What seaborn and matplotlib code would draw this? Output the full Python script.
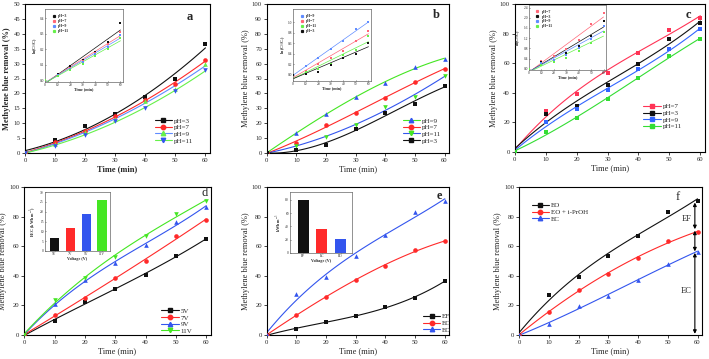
import numpy as np
import pandas as pd
import matplotlib
matplotlib.use("Agg")
import matplotlib.pyplot as plt
from matplotlib.lines import Line2D
import seaborn as sns

# ---------------- data ----------------
time = [0, 10, 20, 30, 40, 50, 60]

# panel a (removal %, pH effect)
a_ph3 = [0, 4.2, 9.2, 13.2, 18.8, 25.0, 36.6]
a_ph7 = [0, 3.6, 7.3, 12.3, 17.7, 23.3, 31.2]
a_ph9 = [0, 3.0, 7.0, 11.5, 17.5, 21.6, 29.7]
a_ph11 = [0, 2.5, 6.2, 10.7, 15.2, 20.7, 27.8]
# inset a  ln(C0/C)
ai_ph3 = [0, 0.040, 0.093, 0.133, 0.184, 0.250, 0.367]
ai_ph7 = [0, 0.036, 0.082, 0.125, 0.176, 0.232, 0.310]
ai_ph9 = [0, 0.032, 0.075, 0.118, 0.168, 0.216, 0.295]
ai_ph11 = [0, 0.028, 0.066, 0.108, 0.158, 0.202, 0.276]

# panel b
b_ph9 = [0, 13.5, 26.1, 37.8, 46.8, 57.7, 63.3]
b_ph7 = [0, 7.0, 18.9, 26.6, 36.9, 47.7, 56.5]
b_ph11 = [0, 4.7, 10.8, 18.9, 30.6, 37.4, 52.0]
b_ph3 = [0, 2.0, 5.4, 16.0, 26.6, 32.9, 45.0]
bi_ph9 = [0, 0.16, 0.32, 0.48, 0.64, 0.87, 1.00]
bi_ph7 = [0, 0.07, 0.21, 0.31, 0.46, 0.65, 0.83]
bi_ph11 = [0, 0.05, 0.11, 0.21, 0.37, 0.47, 0.73]
bi_ph3 = [0, 0.02, 0.06, 0.18, 0.32, 0.40, 0.61]

# panel c
c_ph7 = [0, 27.4, 39.3, 53.7, 67.2, 82.5, 90.8]
c_ph3 = [0, 25.8, 30.8, 45.4, 59.6, 76.4, 87.0]
c_ph9 = [0, 20.0, 29.0, 41.6, 56.0, 69.7, 83.1]
c_ph11 = [0, 13.3, 22.7, 35.7, 50.3, 65.0, 76.4]
ci_ph7 = [0, 0.31, 0.50, 0.77, 1.11, 1.75, 2.20]
ci_ph3 = [0, 0.28, 0.36, 0.60, 0.89, 1.30, 1.87]
ci_ph9 = [0, 0.22, 0.34, 0.54, 0.82, 1.18, 1.68]
ci_ph11 = [0, 0.14, 0.26, 0.44, 0.70, 1.02, 1.46]

# panel d (voltage)
d_5v = [0, 9.5, 22.0, 31.4, 40.4, 53.7, 64.8]
d_7v = [0, 13.5, 25.3, 38.4, 49.7, 66.6, 77.7]
d_9v = [0, 20.8, 37.0, 48.5, 60.5, 76.3, 86.5]
d_11v = [0, 23.7, 38.4, 52.8, 66.6, 82.0, 90.3]
d_bar_cats = ["5V", "7V", "9V", "11V"]
d_bar_vals = [6.7, 11.8, 18.7, 25.7]

# panel e (process)
e_ef = [0, 4.0, 9.0, 12.9, 18.7, 25.3, 36.6]
e_ec = [0, 13.5, 26.0, 37.5, 46.5, 57.6, 63.2]
e_eo = [0, 27.5, 39.3, 53.7, 67.3, 82.8, 90.7]
e_bar_cats = ["EF", "EC", "EO"]
e_bar_vals = [80, 36, 20.5]

# panel f (scavenger)
f_eo = [0, 27.0, 39.3, 53.5, 67.0, 82.8, 90.7]
f_eoi = [0, 15.8, 30.5, 41.3, 52.0, 63.6, 69.5]
f_ec = [0, 7.4, 19.4, 26.4, 37.0, 47.9, 56.4]

# ---------------- style ----------------
sns.set_theme(style="ticks")
plt.rcParams["font.family"] = ["Liberation Serif", "DejaVu Serif"]
plt.rcParams["mathtext.fontset"] = "stix"

K = "#111111"
R = "#ff2a2a"
B = "#3355ee"
G = "#44e622"
RL = "#ff6677"
BL = "#5f8cff"
GL = "#66f04a"

W, H = 709, 359
fig = plt.figure(figsize=(W / 100, H / 100), dpi=100)


def rect(x0, x1, y0, y1):
    return [x0 / W, (H - y1) / H, (x1 - x0) / W, (y1 - y0) / H]


def main_panel(r, series, ylim, yticks, letter, lpos, legloc, bold=False,
               letter_bold=True, order=3):
    ax = fig.add_axes(r)
    for y, lab, lc, mc, m in series:
        sns.regplot(x=np.array(time, float), y=np.array(y, float), order=order,
                    ci=None, scatter=False, truncate=True, ax=ax,
                    line_kws=dict(color=lc, lw=0.8))
        sns.scatterplot(x=time, y=y, marker=m, color=mc, s=11,
                        edgecolor=mc, linewidth=0, ax=ax, legend=False,
                        zorder=3)
    ax.set_xlim(0, 61.5)
    ax.set_ylim(*ylim)
    ax.set_xticks([0, 10, 20, 30, 40, 50, 60])
    ax.set_yticks(yticks)
    fw = "bold" if bold else "normal"
    ax.set_xlabel("Time (min)", fontsize=6, fontweight=fw, labelpad=1.5)
    ax.set_ylabel("Methylene blue removal (%)", fontsize=6, fontweight=fw,
                  labelpad=1.5)
    ax.tick_params(labelsize=4.8, length=2.2, width=0.6, pad=1.2,
                   direction="out")
    for s in ax.spines.values():
        s.set_linewidth(0.8)
        s.set_color("black")
    handles = [Line2D([], [], color=lc, marker=m, markerfacecolor=mc,
                      markeredgecolor=mc, markersize=3.2, lw=0.8)
               for y, lab, lc, mc, m in series]
    labels = [lab for y, lab, lc, mc, m in series]
    ax.legend(handles, labels, loc=legloc[0], bbox_to_anchor=legloc[1],
              frameon=False, fontsize=5, handlelength=2.5, handletextpad=0.3,
              labelspacing=0.12, borderaxespad=0, borderpad=0)
    ax.text(lpos[0], lpos[1], letter, transform=ax.transAxes, fontsize=9,
            fontweight="bold" if letter_bold else "normal",
            ha="center", va="center")
    return ax


def inset_lines(r, series, ylim, yticks, ylabel):
    ax = fig.add_axes(r)
    for y, lab, c in series:
        sns.regplot(x=np.array(time, float), y=np.array(y, float), order=1,
                    ci=None, scatter=False, truncate=True, ax=ax,
                    line_kws=dict(color=c, lw=0.5))
        sns.scatterplot(x=time, y=y, marker="s", color=c, s=1.6,
                        edgecolor=c, linewidth=0, ax=ax, legend=False,
                        zorder=3)
    ax.set_xlim(0, 62)
    ax.set_ylim(*ylim)
    ax.set_xticks([0, 10, 20, 30, 40, 50, 60])
    ax.set_yticks(yticks)
    ax.set_xlabel("Time (min)", fontsize=3, labelpad=0.5, fontweight="bold")
    ax.set_ylabel(ylabel, fontsize=3, labelpad=0.8, fontweight="bold")
    ax.tick_params(labelsize=2.6, length=1.0, width=0.4, pad=0.6,
                   direction="in")
    for s in ax.spines.values():
        s.set_linewidth(0.5)
        s.set_color("#666666")
    handles = [Line2D([], [], color=c, marker="s", ls="", markersize=1.3)
               for y, lab, c in series]
    labels = [lab for y, lab, c in series]
    ax.legend(handles, labels, loc="upper left", bbox_to_anchor=(0.08, 0.93),
              frameon=False, handlelength=1.2,
              handletextpad=0.6, labelspacing=0.25, borderaxespad=0,
              borderpad=0, prop={"weight": "bold", "size": 2.8})
    return ax


def inset_bars(r, cats, vals, colors, ylim, yticks, ylabel, xlim):
    ax = fig.add_axes(r)
    sns.barplot(x=cats, y=vals, hue=cats, palette=colors, saturation=1,
                width=0.58, legend=False, ax=ax, linewidth=0)
    ax.set_xlim(*xlim)
    ax.set_ylim(*ylim)
    ax.set_yticks(yticks)
    ax.set_xlabel("Voltage (V)", fontsize=3, labelpad=0.8, fontweight="bold")
    ax.set_ylabel(ylabel, fontsize=3, labelpad=0.8, fontweight="bold")
    ax.tick_params(labelsize=2.6, length=1.0, width=0.4, pad=0.8,
                   direction="in")
    for s in ax.spines.values():
        s.set_linewidth(0.5)
        s.set_color("#666666")
    return ax


# panel a
main_panel(rect(25, 210, 4, 153),
           [(a_ph3, "pH=3", K, K, "s"), (a_ph7, "pH=7", R, R, "o"),
            (a_ph9, "pH=9", BL, GL, "^"), (a_ph11, "pH=11", GL, B, "v")],
           (0, 50), range(0, 51, 5), "a", (0.89, 0.915),
           ("center left", (0.70, 0.15)), bold=True, order=2)
inset_lines(rect(45, 123, 9, 82),
            [(ai_ph3, "pH=3", K), (ai_ph7, "pH=7", RL),
             (ai_ph9, "pH=9", BL), (ai_ph11, "pH=11", GL)],
            (-0.01, 0.46), [0.0, 0.1, 0.2, 0.3, 0.4], r"ln(C$_0$/C)")

# panel b
main_panel(rect(266.7, 449, 4, 153),
           [(b_ph9, "pH=9", G, B, "^"), (b_ph7, "pH=7", R, R, "o"),
            (b_ph11, "pH=11", B, G, "v"), (b_ph3, "pH=3", K, K, "s")],
           (0, 100), range(0, 101, 10), "b", (0.929, 0.926),
           ("center left", (0.745, 0.15)))
inset_lines(rect(293, 371, 9, 81),
            [(bi_ph9, "pH=9", BL), (bi_ph7, "pH=7", RL),
             (bi_ph11, "pH=11", GL), (bi_ph3, "pH=3", K)],
            (-0.12, 1.25), [0.0, 0.2, 0.4, 0.6, 0.8, 1.0],
            r"ln (C$_0$/C$_t$)")

# panel c
main_panel(rect(514.7, 705, 4, 152),
           [(c_ph7, "pH=7", "#ff3355", "#ff3355", "s"),
            (c_ph3, "pH=3", K, K, "s"),
            (c_ph9, "pH=9", "#3366ff", "#3366ff", "s"),
            (c_ph11, "pH=11", "#33dd33", "#33dd33", "s")],
           (0, 100), range(0, 101, 20), "c", (0.911, 0.926),
           ("center left", (0.675, 0.24)))
inset_lines(rect(529, 606, 5, 70),
            [(ci_ph7, "pH=7", RL), (ci_ph3, "pH=3", K),
             (ci_ph9, "pH=9", BL), (ci_ph11, "pH=11", GL)],
            (-0.05, 2.5), [0.0, 0.4, 0.8, 1.2, 1.6, 2.0, 2.4],
            r"ln(C$_0$/C)")

# panel d
main_panel(rect(24.3, 210.7, 187, 335),
           [(d_5v, "5V", K, K, "s"), (d_7v, "7V", R, R, "o"),
            (d_9v, "9V", B, B, "^"), (d_11v, "11V", G, G, "v")],
           (0, 100), range(0, 101, 20), "d", (0.969, 0.96),
           ("center left", (0.735, 0.095)), letter_bold=False)
inset_bars(rect(45, 110, 192, 251), d_bar_cats, d_bar_vals, [K, R, B, G],
           (0, 30), range(0, 31, 5), r"EEC (kWh m$^{-3}$)", (-0.6, 3.5))

# panel e
main_panel(rect(266.7, 449.3, 187, 335),
           [(e_ef, "EF", K, K, "s"), (e_ec, "EC", R, R, "o"),
            (e_eo, "EO", B, B, "^")],
           (0, 100), range(0, 101, 20), "e", (0.944, 0.94),
           ("center left", (0.855, 0.08)))
inset_bars(rect(290, 352, 192, 253), e_bar_cats, e_bar_vals, [K, R, B],
           (0, 92), [0, 20, 40, 60, 80], r"kWh m$^{-3}$", (-0.7, 2.6))

# panel f
axf = main_panel(rect(519, 702, 187, 335),
                 [(f_eo, "EO", K, K, "s"), (f_eoi, "EO + i-PrOH", R, R, "o"),
                  (f_ec, "EC", B, B, "^")],
                 (0, 100), range(0, 101, 20), "f", (0.869, 0.932),
                 ("center left", (0.07, 0.83)), letter_bold=False)
arrow = dict(arrowstyle="<|-|>", color="black", lw=0.8, mutation_scale=5,
             shrinkA=0, shrinkB=0)
axf.annotate("", xy=(59.1, 71.5), xytext=(59.1, 89.5), arrowprops=arrow)
axf.annotate("", xy=(59.1, 56.5), xytext=(59.1, 70.5), arrowprops=arrow)
axf.annotate("", xy=(59.1, 0.8), xytext=(59.1, 55.5), arrowprops=arrow)
axf.text(56.3, 78.5, "EF", fontsize=6, ha="center", va="center")
axf.text(56.3, 30, "EC", fontsize=6, ha="center", va="center")

fig.savefig("out.png", dpi=100)
